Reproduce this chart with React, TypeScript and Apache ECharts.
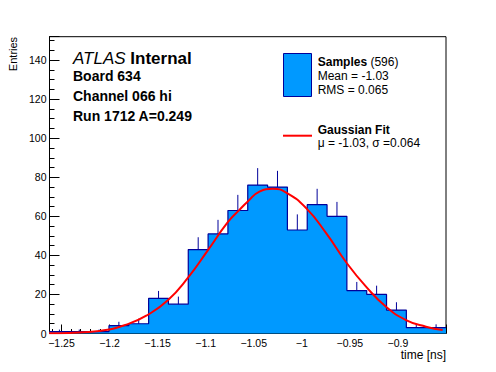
import React, { useEffect, useRef } from "react";
import * as echarts from "echarts";

// Histogram bin edges (time in ns)
const binEdges = [
  -1.2625, -1.241875, -1.22125, -1.200625, -1.18, -1.159375, -1.13875, -1.118125,
  -1.0975, -1.076875, -1.05625, -1.035625, -1.015, -0.994375, -0.97375, -0.953125,
  -0.9325, -0.911875, -0.89125, -0.870625, -0.85,
];
// Entries per bin
const counts = [1, 1, 1, 4, 5, 18, 15, 43, 51, 63, 76, 75, 53, 66, 60, 22, 20, 12, 3, 3];
// Top of the error bar for each bin
const errTop = [2, 2, 2, 6, 7.6, 21.8, 18.9, 49.3, 58.2, 71, 84.7, 83.3, 61, 74.1, 67.4, 26.4, 24.5, 16, 4.7, 4.7];

// Gaussian fit curve
const fitX = [
  -1.2629, -1.2423, -1.2104, -1.181, -1.1602, -1.1394, -1.1186, -1.0978, -1.077, -1.0649,
  -1.0562, -1.0441, -1.0302, -1.0163, -0.9955, -0.9747, -0.9539, -0.9332, -0.9124, -0.8916,
  -0.8708, -0.8535,
];
const fitY = [
  0.1, 0.3, 1.3, 4.8, 9.6, 17, 28.5, 42.6, 57, 63.3, 67.6, 72.7, 74.1, 72.2, 64.2, 51.4, 36.5,
  24, 13.7, 6.9, 3.5, 1.8,
];

const yMin = 0;
const yMax = 152;
const yInterval = 20;

const infoLines = ["Board 634", "Channel 066 hi", "Run 1712 A=0.249"];
const legendStats = ["Mean = -1.03", "RMS = 0.065"];
const fitText = "\u03bc = -1.03, \u03c3 =0.064";

const FONT = "'Liberation Sans', Arial, Helvetica, sans-serif";
const FILL = "#0099ff";
const EDGE = "#00009a";
const RED = "#ff0000";

function fmt(v: number): string {
  const s = String(parseFloat(v.toFixed(4)));
  return s.replace("-", "\u2212");
}

export default function App() {
  const ref = useRef<HTMLDivElement>(null);
  useEffect(() => {
    if (!ref.current) return;
    const chart = echarts.init(ref.current, null, { renderer: "svg" });

    const stepData: number[][] = counts.map((c, i) => [binEdges[i], c]);
    stepData.push([binEdges[binEdges.length - 1], counts[counts.length - 1]]);

    const errData = counts.map((c, i) => [binEdges[i], binEdges[i + 1], c, errTop[i]]);
    const fitData = fitX.map((x, i) => [x, fitY[i]]);

    const option: any = {
      animation: false,
      backgroundColor: "#fff",
      grid: {
        left: 49.5,
        right: 50,
        top: 36.7,
        bottom: 38.5,
        show: true,
        borderColor: "#000",
        borderWidth: 1,
        containLabel: false,
      },
      xAxis: {
        type: "value",
        min: binEdges[0],
        max: binEdges[binEdges.length - 1],
        splitNumber: 8,
        axisLine: { show: true, onZero: false, lineStyle: { color: "#000", width: 1 } },
        axisTick: { show: true, inside: true, length: 9, lineStyle: { color: "#000" } },
        minorTick: { show: true, splitNumber: 5, length: 4.5, lineStyle: { color: "#000" } },
        splitLine: { show: false },
        axisLabel: {
          showMinLabel: false,
          showMaxLabel: false,
          color: "#000",
          fontFamily: FONT,
          fontSize: 10.5,
          margin: 4,
          formatter: (v: number) => fmt(v),
        },
      },
      yAxis: {
        type: "value",
        min: yMin,
        max: yMax,
        interval: yInterval,
        axisLine: { show: true, onZero: false, lineStyle: { color: "#000", width: 1 } },
        axisTick: { show: true, inside: true, length: 10, lineStyle: { color: "#000" } },
        minorTick: { show: true, splitNumber: 4, length: 5, lineStyle: { color: "#000" } },
        splitLine: { show: false },
        axisLabel: {
          showMaxLabel: false,
          color: "#000",
          fontFamily: FONT,
          fontSize: 10.5,
          margin: 3,
          formatter: (v: number) => fmt(v),
        },
      },
      series: [
        {
          type: "line",
          step: "end",
          data: stepData,
          symbol: "none",
          lineStyle: { color: EDGE, width: 1.2 },
          areaStyle: { color: FILL, opacity: 1 },
          z: 2,
          silent: true,
        },
        {
          type: "custom",
          data: errData,
          encode: { x: [0, 1], y: [2, 3] },
          z: 3,
          silent: true,
          renderItem: (params: any, api: any) => {
            const xc = (api.value(0) + api.value(1)) / 2;
            const p1 = api.coord([xc, api.value(2)]);
            const p2 = api.coord([xc, api.value(3)]);
            return {
              type: "line",
              shape: { x1: p1[0], y1: p1[1], x2: p2[0], y2: p2[1] },
              style: { stroke: EDGE, lineWidth: 1 },
            };
          },
        },
        {
          type: "line",
          data: fitData,
          smooth: true,
          symbol: "none",
          lineStyle: { color: RED, width: 2 },
          z: 4,
          silent: true,
        },
      ],
      graphic: [
        {
          type: "text",
          x: 13,
          y: 54,
          rotation: Math.PI / 2,
          style: {
            text: "Entries",
            font: `11px ${FONT}`,
            fill: "#000",
            align: "center",
            verticalAlign: "middle",
          },
        },
        {
          type: "text",
          x: 446,
          y: 355,
          style: {
            text: "time [ns]",
            font: `12px ${FONT}`,
            fill: "#000",
            align: "right",
            verticalAlign: "middle",
          },
        },
        {
          type: "text",
          x: 73,
          y: 58.8,
          style: {
            text: "{a|ATLAS}{b| Internal}",
            verticalAlign: "middle",
            rich: {
              a: { fontStyle: "italic", fontSize: 17, fontFamily: FONT, fill: "#000", color: "#000" },
              b: { fontWeight: "bold", fontSize: 17, fontFamily: FONT, fill: "#000", color: "#000" },
            },
          },
        },
        ...infoLines.map((t, i) => ({
          type: "text",
          x: 73,
          y: 76.3 + i * 19.9,
          style: {
            text: t,
            font: `bold 14px ${FONT}`,
            fill: "#000",
            verticalAlign: "middle",
          },
        })),
        {
          type: "rect",
          shape: { x: 283.5, y: 53.5, width: 28, height: 43 },
          style: { fill: FILL, stroke: EDGE, lineWidth: 1 },
        },
        {
          type: "text",
          x: 317.7,
          y: 61.5,
          style: {
            text: "{a|Samples}{b| (596)}",
            verticalAlign: "middle",
            rich: {
              a: { fontWeight: "bold", fontSize: 12, fontFamily: FONT, color: "#000" },
              b: { fontSize: 12, fontFamily: FONT, color: "#000" },
            },
          },
        },
        ...legendStats.map((t, i) => ({
          type: "text",
          x: 317.7,
          y: 76 + i * 14.4,
          style: {
            text: t,
            font: `12px ${FONT}`,
            fill: "#000",
            verticalAlign: "middle",
          },
        })),
        {
          type: "line",
          shape: { x1: 283, y1: 135.7, x2: 312, y2: 135.7 },
          style: { stroke: RED, lineWidth: 2 },
        },
        {
          type: "text",
          x: 317.7,
          y: 129.8,
          style: {
            text: "Gaussian Fit",
            font: `bold 12px ${FONT}`,
            fill: "#000",
            verticalAlign: "middle",
          },
        },
        {
          type: "text",
          x: 317.7,
          y: 143.3,
          style: {
            text: fitText,
            font: `12px ${FONT}`,
            fill: "#000",
            verticalAlign: "middle",
          },
        },
      ],
    };

    chart.setOption(option);
    return () => chart.dispose();
  }, []);

  return (
    <div
      ref={ref}
      style={{ position: "fixed", left: 0, top: 0, width: 496, height: 372, background: "#fff" }}
    />
  );
}
